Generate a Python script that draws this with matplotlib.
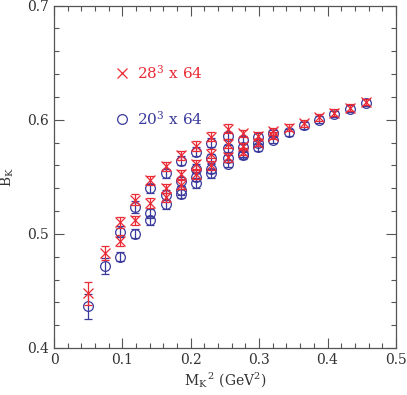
import matplotlib
matplotlib.use("Agg")
import matplotlib.pyplot as plt
from matplotlib.ticker import MultipleLocator

plt.rcParams['font.family'] = ['DejaVu Serif']
plt.rcParams['mathtext.fontset'] = 'dejavuserif'

# 28^3 x 64 (red crosses)
x28 = [0.050, 0.074, 0.097, 0.097, 0.119, 0.119, 0.141, 0.141,
       0.164, 0.164, 0.164, 0.186, 0.186, 0.186, 0.208, 0.208, 0.208,
       0.230, 0.230, 0.230, 0.254, 0.254, 0.254, 0.276, 0.276, 0.276,
       0.299, 0.299, 0.321, 0.321, 0.343, 0.365, 0.388, 0.410, 0.433, 0.456]
y28 = [0.448, 0.483, 0.510, 0.494, 0.530, 0.512, 0.547, 0.527,
       0.559, 0.540, 0.532, 0.569, 0.552, 0.543, 0.577, 0.561, 0.552,
       0.585, 0.570, 0.560, 0.592, 0.579, 0.567, 0.588, 0.577, 0.572,
       0.586, 0.580, 0.590, 0.586, 0.593, 0.597, 0.602, 0.606, 0.6105, 0.6155]
e28 = [0.010, 0.006, 0.005, 0.005, 0.005, 0.004, 0.004, 0.004,
       0.004, 0.004, 0.004, 0.004, 0.004, 0.004, 0.004, 0.004, 0.004,
       0.004, 0.004, 0.004, 0.004, 0.004, 0.004, 0.003, 0.003, 0.003,
       0.003, 0.003, 0.003, 0.003, 0.003, 0.003, 0.003, 0.003, 0.003, 0.003]

# 20^3 x 64 (blue circles)
x20 = [0.050, 0.074, 0.097, 0.097, 0.119, 0.119, 0.141, 0.141, 0.141,
       0.164, 0.164, 0.164, 0.186, 0.186, 0.186, 0.186,
       0.208, 0.208, 0.208, 0.208, 0.230, 0.230, 0.230, 0.230,
       0.254, 0.254, 0.254, 0.254, 0.276, 0.276, 0.276, 0.276,
       0.299, 0.299, 0.299, 0.321, 0.321, 0.343, 0.365, 0.388, 0.410, 0.433, 0.456]
y20 = [0.4365, 0.472, 0.502, 0.480, 0.5235, 0.500, 0.540, 0.518, 0.512,
       0.553, 0.534, 0.526, 0.564, 0.546, 0.538, 0.535,
       0.572, 0.557, 0.550, 0.5445, 0.580, 0.566, 0.557, 0.553,
       0.586, 0.575, 0.566, 0.5615, 0.5825, 0.576, 0.570, 0.5687,
       0.585, 0.580, 0.576, 0.588, 0.5825, 0.589, 0.595, 0.600, 0.605, 0.6095, 0.615]
e20 = [0.011, 0.007, 0.005, 0.004, 0.005, 0.004, 0.004, 0.004, 0.004,
       0.004, 0.004, 0.004, 0.004, 0.004, 0.004, 0.004,
       0.004, 0.004, 0.004, 0.004, 0.004, 0.004, 0.004, 0.004,
       0.003, 0.003, 0.003, 0.003, 0.003, 0.003, 0.003, 0.003,
       0.003, 0.003, 0.003, 0.003, 0.003, 0.003, 0.003, 0.003, 0.003, 0.003, 0.003]

red = '#ea2a35'
blue = '#3a3a9c'

fig = plt.figure(figsize=(4.07, 3.95), dpi=100)
ax = fig.add_axes([0.1327, 0.119, 0.840, 0.867])

ax.errorbar(x20, y20, yerr=e20, fmt='o', mfc='none', mec=blue, ecolor=blue,
            ms=7, mew=0.9, elinewidth=0.9, capsize=3, capthick=0.9, zorder=2)
ax.errorbar(x28, y28, yerr=e28, fmt='x', color=red, ecolor=red,
            ms=6.5, mew=0.9, elinewidth=0.9, capsize=3, capthick=0.9, zorder=3)

# in-plot legend
ax.plot([0.099], [0.641], 'x', color=red, ms=6.5, mew=0.9)
ax.text(0.121, 0.641, '28$^3$ x 64', color=red, fontsize=11, va='center', ha='left')
ax.plot([0.099], [0.6005], 'o', mfc='none', mec=blue, ms=7, mew=0.9)
ax.text(0.121, 0.6005, '20$^3$ x 64', color=blue, fontsize=11, va='center', ha='left')

ax.set_xlim(0, 0.5)
ax.set_ylim(0.4, 0.7)
ax.xaxis.set_major_locator(MultipleLocator(0.1))
ax.xaxis.set_minor_locator(MultipleLocator(0.02))
ax.yaxis.set_major_locator(MultipleLocator(0.1))
ax.yaxis.set_minor_locator(MultipleLocator(0.02))
ax.set_xticklabels(['0', '0.1', '0.2', '0.3', '0.4', '0.5'])
ax.set_xticks([0, 0.1, 0.2, 0.3, 0.4, 0.5])
ax.set_xticklabels(['0', '0.1', '0.2', '0.3', '0.4', '0.5'])
ax.set_yticks([0.4, 0.5, 0.6, 0.7])
ax.set_yticklabels(['0.4', '0.5', '0.6', '0.7'])
ax.tick_params(which='both', direction='in', top=True, right=True,
               colors='#555555', labelcolor='#333333', labelsize=10, width=0.8)
ax.tick_params(which='major', length=7)
ax.tick_params(which='minor', length=3.5)
for s in ax.spines.values():
    s.set_color('#555555')
    s.set_linewidth(0.9)

ax.set_xlabel(r'$\mathrm{M_K}^{\,2}$ (GeV$^2$)', fontsize=10, color='#333333', labelpad=3)
ax.set_ylabel(r'$\mathrm{B_K}$', fontsize=10, color='#333333', labelpad=8)

fig.savefig('out.png', dpi=100)
